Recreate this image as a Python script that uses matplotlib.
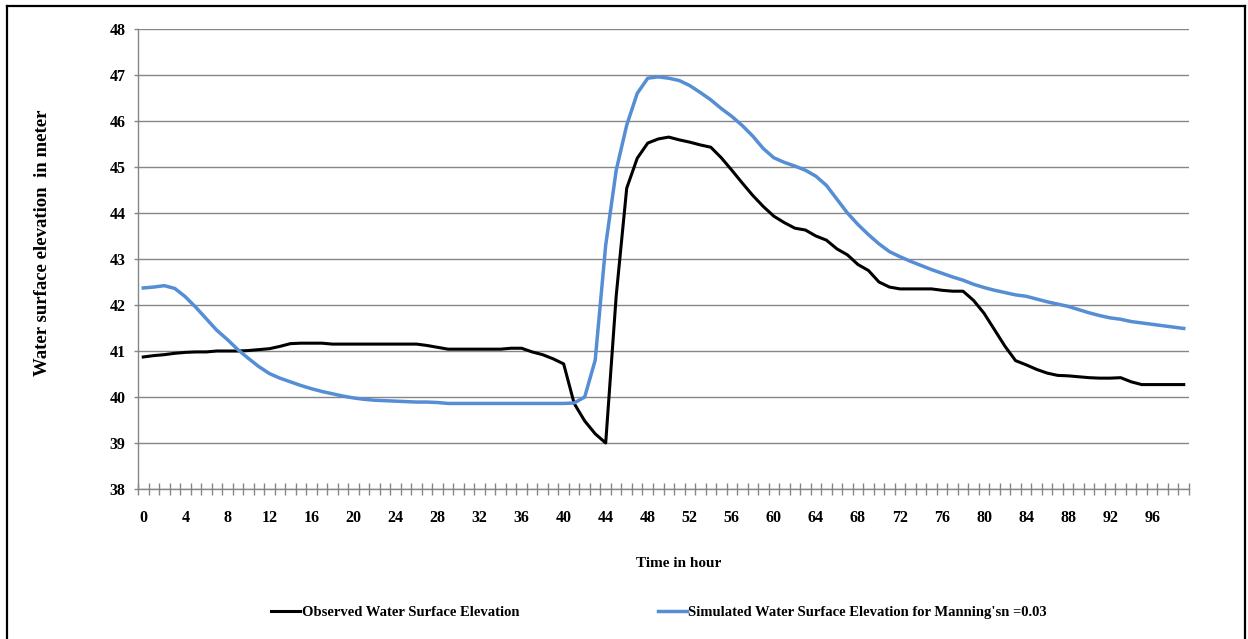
import matplotlib
matplotlib.use("Agg")
import matplotlib.pyplot as plt
from matplotlib.lines import Line2D
from matplotlib.ticker import FixedLocator

# hourly values (hour 0 .. 99)
hours = list(range(100))

observed = [40.87, 40.90, 40.92, 40.95, 40.97, 40.98, 40.98, 41.00, 41.00, 41.00,
            41.01, 41.03, 41.05, 41.10, 41.16, 41.17, 41.17, 41.17, 41.15, 41.15,
            41.15, 41.15, 41.15, 41.15, 41.15, 41.15, 41.15, 41.12, 41.08, 41.04,
            41.04, 41.04, 41.04, 41.04, 41.04, 41.06, 41.06, 40.98, 40.92, 40.83,
            40.72, 39.86, 39.48, 39.20, 39.00, 42.20, 44.54, 45.19, 45.52, 45.61,
            45.65, 45.59, 45.54, 45.48, 45.43, 45.20, 44.93, 44.65, 44.38, 44.14,
            43.93, 43.79, 43.67, 43.63, 43.50, 43.41, 43.22, 43.09, 42.88, 42.75,
            42.50, 42.39, 42.35, 42.35, 42.35, 42.35, 42.32, 42.30, 42.30, 42.10,
            41.82, 41.46, 41.10, 40.79, 40.70, 40.60, 40.52, 40.47, 40.46, 40.44,
            40.42, 40.41, 40.41, 40.42, 40.33, 40.27, 40.27, 40.27, 40.27, 40.27]

simulated = [42.37, 42.39, 42.42, 42.36, 42.18, 41.95, 41.70, 41.45, 41.25, 41.03,
             40.84, 40.66, 40.51, 40.41, 40.33, 40.25, 40.18, 40.12, 40.07, 40.02,
             39.98, 39.95, 39.93, 39.92, 39.91, 39.90, 39.89, 39.89, 39.88, 39.86,
             39.86, 39.86, 39.86, 39.86, 39.86, 39.86, 39.86, 39.86, 39.86, 39.86,
             39.86, 39.87, 40.00, 40.80, 43.30, 44.93, 45.91, 46.60, 46.93, 46.96,
             46.93, 46.88, 46.77, 46.62, 46.46, 46.27, 46.10, 45.90, 45.67, 45.40,
             45.20, 45.10, 45.02, 44.93, 44.80, 44.60, 44.30, 44.00, 43.75, 43.53,
             43.33, 43.16, 43.05, 42.95, 42.86, 42.77, 42.69, 42.61, 42.54, 42.45,
             42.38, 42.32, 42.27, 42.22, 42.19, 42.13, 42.07, 42.02, 41.97, 41.90,
             41.83, 41.77, 41.72, 41.69, 41.64, 41.61, 41.58, 41.55, 41.52, 41.49]

label_hours = list(range(0, 100, 4))
y_ticks = list(range(38, 49))

obs_label = "Observed Water Surface Elevation"
sim_label = "Simulated Water Surface Elevation for Manning'sn =0.03"

plt.rcParams['font.family'] = ['Liberation Serif', 'DejaVu Serif']
plt.rcParams['font.weight'] = 'bold'

grey = '#868686'

fig = plt.figure(figsize=(12.48, 6.39), dpi=100)
ax = fig.add_axes([138/1248, 1 - 489/639, (1189 - 138)/1248, (489 - 29)/639])

ax.plot(hours, observed, color='black', lw=2.2, label=obs_label, solid_joinstyle='round')
ax.plot(hours, simulated, color='#558ED5', lw=2.5, label=sim_label, solid_joinstyle='round')

ax.set_xlim(-0.5, 99.5)
ax.set_ylim(38, 48)
ax.set_yticks(y_ticks)
ax.grid(axis='y', color=grey, lw=1.0)
ax.set_axisbelow(True)

# category axis: tick marks on boundaries, labels every 4th hour
ax.set_xticks(label_hours)
ax.set_xticklabels([str(h) for h in label_hours])
ax.xaxis.set_minor_locator(FixedLocator([h - 0.5 for h in hours] + [99.5]))
ax.tick_params(axis='x', which='major', length=0, pad=15, labelsize=11.5)
ax.tick_params(axis='x', which='minor', length=8.6, direction='inout', color=grey, width=1.0)
ax.tick_params(axis='y', length=3, color=grey, width=1.0, pad=6, labelsize=11.5)

for s in ['top', 'right']:
    ax.spines[s].set_visible(False)
for s in ['left', 'bottom']:
    ax.spines[s].set_color(grey)
    ax.spines[s].set_linewidth(1.0)

ax.set_xlabel('Time in hour', fontsize=11, fontweight='bold')
ax.xaxis.set_label_coords(0.514, -0.147)
ax.set_ylabel('Water surface elevation  in meter', fontsize=13.5, fontweight='bold')
ax.yaxis.set_label_coords(-0.083, 0.535)

fig.legend(loc='center', bbox_to_anchor=(659/1248, 1 - 612/639), ncol=2, frameon=False,
           fontsize=10.5, handlelength=2.0, handletextpad=0.1, columnspacing=9.5)

# outer frame
for xs, ys in [([7/1248, 7/1248], [0, 1 - 6/639]),
               ([7/1248, 1245/1248], [1 - 6/639, 1 - 6/639]),
               ([1245/1248, 1245/1248], [1 - 6/639, 0])]:
    fig.add_artist(Line2D(xs, ys, color='black', lw=1.6, transform=fig.transFigure))

fig.savefig('out.png', dpi=100)
